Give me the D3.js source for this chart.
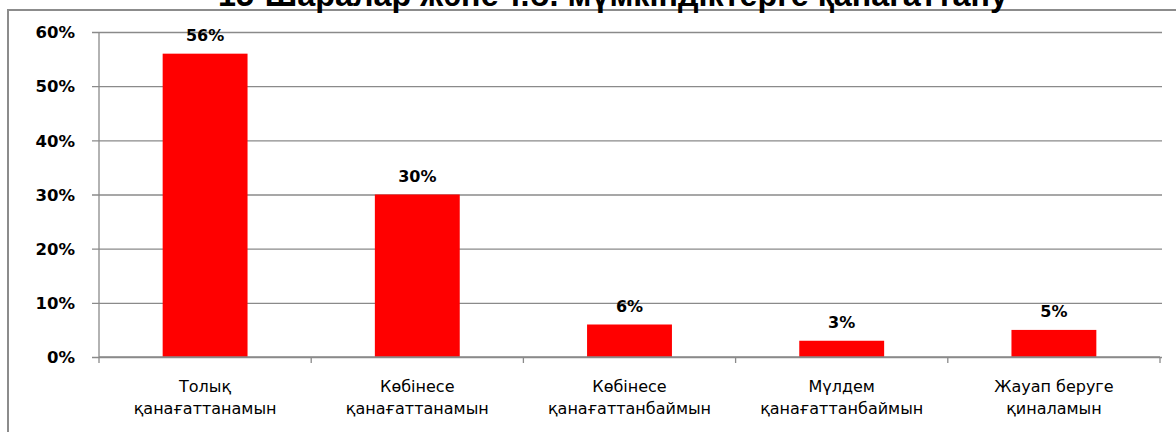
<!DOCTYPE html>
<html><head><meta charset="utf-8">
<script src="https://cdn.jsdelivr.net/npm/d3@7"></script>
<style>html,body{margin:0;padding:0;background:#fff;overflow:hidden}</style>
</head><body>
<svg id="c" width="1176" height="432"></svg>
<script>
const title = "15-Шаралар және т.б. мүмкіндіктерге қанағаттану";
const categories = [
  ["Толық", "қанағаттанамын"],
  ["Көбінесе", "қанағаттанамын"],
  ["Көбінесе", "қанағаттанбаймын"],
  ["Мүлдем", "қанағаттанбаймын"],
  ["Жауап беруге", "қиналамын"]
];
const values = [0.56, 0.30, 0.06, 0.03, 0.05];
const valueLabels = ["56%", "30%", "6%", "3%", "5%"];
const yTicks = [0, 0.1, 0.2, 0.3, 0.4, 0.5, 0.6];

const svg = d3.select("#c");
const pL = 99, pR = 1160, pT = 32, pB = 357;

// frame
svg.append("path").attr("d", "M8,432 V10 H1176").attr("fill", "none")
  .attr("stroke", "#8c8c8c").attr("stroke-width", 2);

// title (clipped at top, as in the reference)
const t = svg.append("text").attr("x", 613).attr("y", 6).attr("text-anchor", "middle")
  .attr("font-family", "Liberation Sans, Arial, sans-serif").attr("font-weight", "bold")
  .attr("font-size", 27).attr("fill", "#000").text(title);
const w = t.node().getComputedTextLength();
t.attr("font-size", 27 * 790 / w);

const ids = categories.map((d, i) => i);
const x = d3.scaleBand().domain(ids).range([pL, pR]).paddingInner(0.6).paddingOuter(0.3);
const xb = d3.scaleBand().domain(ids).range([pL, pR]);
const y = d3.scaleLinear().domain([0, 0.6]).range([pB, pT]);

// gridlines + y ticks
const ya = d3.axisLeft(y).tickValues(yTicks).tickFormat(d3.format(".0%"))
  .tickSize(-(pR - pL) - 2).tickPadding(24);
const gy = svg.append("g").attr("transform", `translate(${pL},0)`).call(ya);
gy.select(".domain").remove();
gy.selectAll(".tick line").attr("stroke", "#8a8a8a").attr("stroke-width", 1.3).attr("x1", -7);
gy.selectAll(".tick text").attr("font-family", "DejaVu Sans, Verdana, sans-serif")
  .attr("font-weight", "bold").attr("font-size", 16.5).attr("fill", "#000").attr("dy", "0.35em");
svg.append("line").attr("x1", pL).attr("x2", pL).attr("y1", pT).attr("y2", pB)
  .attr("stroke", "#8a8a8a").attr("stroke-width", 1.3);

// bars
svg.append("g").selectAll("rect").data(values).join("rect")
  .attr("x", (d, i) => x(i)).attr("width", x.bandwidth())
  .attr("y", d => y(d)).attr("height", d => pB - y(d)).attr("fill", "#ff0000");

// value labels
svg.append("g").selectAll("text").data(values).join("text")
  .attr("x", (d, i) => x(i) + x.bandwidth() / 2).attr("y", d => y(d) - 12.5)
  .attr("text-anchor", "middle").attr("font-family", "DejaVu Sans, Verdana, sans-serif")
  .attr("font-weight", "bold").attr("font-size", 16).attr("fill", "#000")
  .text((d, i) => valueLabels[i]);

// x axis
const xa = d3.axisBottom(xb).tickSize(0).tickFormat(() => "");
const gx = svg.append("g").attr("transform", `translate(0,${pB})`).call(xa);
gx.select(".domain").attr("stroke", "#8a8a8a").attr("stroke-width", 1.3).attr("d", `M${pL},0H${pR}`);
const bounds = ids.map(i => xb(i)).concat([pR]);
svg.append("g").selectAll("line").data(bounds).join("line")
  .attr("x1", d => d).attr("x2", d => d).attr("y1", pB).attr("y2", pB + 6)
  .attr("stroke", "#8a8a8a").attr("stroke-width", 1.3);

const cl = svg.append("g").selectAll("text").data(categories).join("text")
  .attr("x", (d, i) => xb(i) + xb.bandwidth() / 2).attr("y", 392)
  .attr("text-anchor", "middle").attr("font-family", "DejaVu Sans, Verdana, sans-serif")
  .attr("font-size", 16).attr("fill", "#000");
cl.selectAll("tspan").data(d => d).join("tspan")
  .attr("x", function () { return this.parentNode.getAttribute("x"); })
  .attr("dy", (d, j) => j === 0 ? 0 : 22).text(d => d);
</script>
</body></html>
